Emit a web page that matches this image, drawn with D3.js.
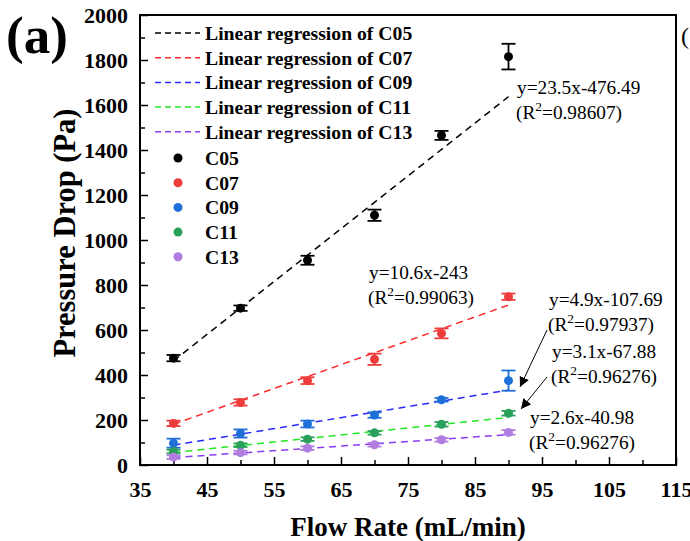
<!DOCTYPE html>
<html>
<head>
<meta charset="utf-8">
<script src="https://cdn.jsdelivr.net/npm/d3@7"></script>
<style>
  body { margin: 0; background: #fff; }
  svg text { font-family: "Times New Roman", "Liberation Serif", serif; }
</style>
</head>
<body>
<div class="chart-container"></div>
<script>
var width = 690;
var height = 541;
var margin = { left: 140, right: 14, top: 15, bottom: 76 };

// Data
var flowRates = [40, 50, 60, 70, 80, 90];
var seriesNames = ['C05', 'C07', 'C09', 'C11', 'C13'];
var c05 = [475, 697, 910, 1110, 1465, 1815];
var c05Err = [14, 12, 20, 25, 20, 57];
var c07 = [185, 278, 375, 470, 585, 748];
var c07Err = [12, 14, 15, 25, 22, 14];
var c09 = [97, 140, 182, 222, 290, 375];
var c09Err = [20, 18, 15, 12, 8, 45];
var c11 = [60, 88, 115, 143, 181, 230];
var c11Err = [8, 8, 8, 8, 10, 10];
var c13 = [35, 55, 75, 90, 112, 145];
var c13Err = [8, 8, 8, 8, 8, 10];
// fitted line end values (x = 40 and x = 90) as drawn
var fitX = [40, 90];
var fitC05 = [463, 1637];
var fitC07 = [181, 711];
var fitC09 = [88, 333];
var fitC11 = [56, 211];
var fitC13 = [33, 135];
var equations = ['y=23.5x-476.49', 'y=10.6x-243', 'y=4.9x-107.69', 'y=3.1x-67.88', 'y=2.6x-40.98'];
var r2Values = ['0.98607', '0.99063', '0.97937', '0.96276', '0.96276'];
var xTicks = [35, 45, 55, 65, 75, 85, 95, 105, 115];
var yTicks = [0, 200, 400, 600, 800, 1000, 1200, 1400, 1600, 1800, 2000];

var pointColors = ['#000000', '#ee3b3b', '#1f6fd8', '#2aa05a', '#b07ce0'];
var lineColors = ['#000000', '#ff2a2a', '#2a2aff', '#22e622', '#8a3cf0'];

var series = [
  { name: 'C05', values: c05, err: c05Err, fit: fitC05 },
  { name: 'C07', values: c07, err: c07Err, fit: fitC07 },
  { name: 'C09', values: c09, err: c09Err, fit: fitC09 },
  { name: 'C11', values: c11, err: c11Err, fit: fitC11 },
  { name: 'C13', values: c13, err: c13Err, fit: fitC13 }
];

var svg = d3.select('.chart-container')
  .append('svg')
  .attr('width', width)
  .attr('height', height);

var xScale = d3.scaleLinear().domain([35, 115]).range([margin.left, width - margin.right]);
var yScale = d3.scaleLinear().domain([0, 2000]).range([height - margin.bottom, margin.top]);

// Minor ticks (inward)
var xMinor = d3.range(40, 115, 10);
var yMinor = d3.range(100, 2000, 200);

svg.append('g')
  .attr('transform', 'translate(0,' + yScale(0) + ')')
  .call(d3.axisBottom(xScale).tickValues(xMinor).tickSize(-5).tickFormat(''))
  .call(g => g.select('.domain').remove())
  .selectAll('line').attr('stroke-width', 1.5);

svg.append('g')
  .attr('transform', 'translate(' + xScale(35) + ',0)')
  .call(d3.axisLeft(yScale).tickValues(yMinor).tickSize(-5).tickFormat(''))
  .call(g => g.select('.domain').remove())
  .selectAll('line').attr('stroke-width', 1.5);

// Major ticks
var xAxis = svg.append('g')
  .attr('transform', 'translate(0,' + yScale(0) + ')')
  .call(d3.axisBottom(xScale).tickValues(xTicks).tickSize(-8).tickPadding(16).tickFormat(d3.format('d')));
xAxis.select('.domain').remove();
xAxis.selectAll('line').attr('stroke-width', 1.5);
xAxis.selectAll('text')
  .attr('font-size', 22).attr('font-weight', 'bold').attr('fill', '#000')
  .style('font-family', '"Times New Roman", "Liberation Serif", serif');

var yAxis = svg.append('g')
  .attr('transform', 'translate(' + xScale(35) + ',0)')
  .call(d3.axisLeft(yScale).tickValues(yTicks).tickSize(-8).tickPadding(12).tickFormat(d3.format('d')));
yAxis.select('.domain').remove();
yAxis.selectAll('line').attr('stroke-width', 1.5);
yAxis.selectAll('text')
  .attr('font-size', 22).attr('font-weight', 'bold').attr('fill', '#000')
  .style('font-family', '"Times New Roman", "Liberation Serif", serif');

// Frame
svg.append('rect')
  .attr('x', xScale(35)).attr('y', yScale(2000))
  .attr('width', xScale(115) - xScale(35))
  .attr('height', yScale(0) - yScale(2000))
  .attr('fill', 'none').attr('stroke', '#000').attr('stroke-width', 2);

// Regression lines
series.forEach(function (s, i) {
  svg.append('line')
    .attr('x1', xScale(fitX[0])).attr('y1', yScale(s.fit[0]))
    .attr('x2', xScale(fitX[1])).attr('y2', yScale(s.fit[1]))
    .attr('stroke', lineColors[i]).attr('stroke-width', 1.5)
    .attr('stroke-dasharray', '7,5');
});

// Error bars and points
series.forEach(function (s, i) {
  var g = svg.append('g');
  flowRates.forEach(function (x, j) {
    var cx = xScale(x);
    var top = yScale(s.values[j] + s.err[j]);
    var bot = yScale(s.values[j] - s.err[j]);
    g.append('line').attr('x1', cx).attr('x2', cx).attr('y1', top).attr('y2', bot)
      .attr('stroke', pointColors[i]).attr('stroke-width', 1.8);
    g.append('line').attr('x1', cx - 7).attr('x2', cx + 7).attr('y1', top).attr('y2', top)
      .attr('stroke', pointColors[i]).attr('stroke-width', 1.8);
    g.append('line').attr('x1', cx - 7).attr('x2', cx + 7).attr('y1', bot).attr('y2', bot)
      .attr('stroke', pointColors[i]).attr('stroke-width', 1.8);
  });
  g.selectAll('circle')
    .data(s.values)
    .enter()
    .append('circle')
    .attr('cx', (d, j) => xScale(flowRates[j]))
    .attr('cy', d => yScale(d))
    .attr('r', 4.5)
    .attr('fill', pointColors[i]);
});

// Legend
var legend = svg.append('g');
seriesNames.forEach(function (name, i) {
  var y = 33 + i * 24.7;
  legend.append('line')
    .attr('x1', 155).attr('x2', 200).attr('y1', y).attr('y2', y)
    .attr('stroke', lineColors[i]).attr('stroke-width', 1.5)
    .attr('stroke-dasharray', '6,4');
  legend.append('text')
    .attr('x', 205).attr('y', y + 7)
    .attr('font-size', 19.7).attr('font-weight', 'bold')
    .text('Linear regression of ' + name);
});
seriesNames.forEach(function (name, i) {
  var y = 158 + i * 24.7;
  legend.append('circle')
    .attr('cx', 178).attr('cy', y).attr('r', 4.5)
    .attr('fill', pointColors[i]);
  legend.append('text')
    .attr('x', 205).attr('y', y + 7)
    .attr('font-size', 19.7).attr('font-weight', 'bold')
    .text(name);
});

// Equation annotations
var annot = [
  { x: 517, y: 94 },
  { x: 369, y: 279 },
  { x: 549, y: 306 },
  { x: 552, y: 358 },
  { x: 530, y: 424 }
];
annot.forEach(function (a, i) {
  svg.append('text')
    .attr('x', a.x).attr('y', a.y)
    .attr('font-size', 19.3)
    .text(equations[i]);
  var t = svg.append('text')
    .attr('x', a.x - 1).attr('y', a.y + 25)
    .attr('font-size', 19.3);
  t.append('tspan').text('(R');
  t.append('tspan').attr('dy', -8).attr('font-size', 13.5).text('2');
  t.append('tspan').attr('dy', 8).text('=' + r2Values[i] + ')');
});

// Arrows
svg.append('defs').append('marker')
  .attr('id', 'arrow')
  .attr('viewBox', '0 0 10 10')
  .attr('refX', 10).attr('refY', 5)
  .attr('markerWidth', 10).attr('markerHeight', 10)
  .attr('markerUnits', 'userSpaceOnUse')
  .attr('orient', 'auto')
  .append('path').attr('d', 'M0,0 L10,5 L0,10 z').attr('fill', '#000');

[[547, 330, 520, 387], [547, 377, 521, 409]].forEach(function (a) {
  svg.append('line')
    .attr('x1', a[0]).attr('y1', a[1]).attr('x2', a[2]).attr('y2', a[3])
    .attr('stroke', '#000').attr('stroke-width', 1)
    .attr('marker-end', 'url(#arrow)');
});

// Axis titles
svg.append('text')
  .attr('x', (xScale(35) + xScale(115)) / 2)
  .attr('y', 536)
  .attr('text-anchor', 'middle')
  .attr('font-size', 27).attr('font-weight', 'bold')
  .text('Flow Rate (mL/min)');

svg.append('text')
  .attr('transform', 'translate(75,233) rotate(-90)')
  .attr('text-anchor', 'middle')
  .attr('font-size', 30.5).attr('font-weight', 'bold')
  .text('Pressure Drop (Pa)');

// Panel label
svg.append('text')
  .attr('x', 6).attr('y', 53)
  .attr('font-size', 53).attr('font-weight', 'bold')
  .text('(a)');
svg.append('text')
  .attr('x', 681).attr('y', 44)
  .attr('font-size', 24)
  .text('(');
</script>
</body>
</html>
